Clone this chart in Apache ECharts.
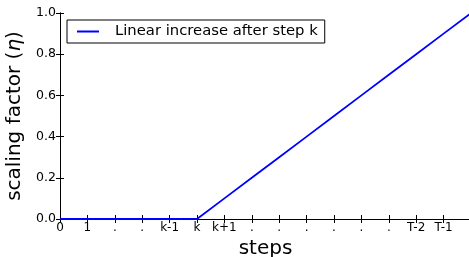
<!DOCTYPE html>
<html><head><meta charset="utf-8">
<script src="https://cdn.jsdelivr.net/npm/echarts@6/dist/echarts.min.js"></script>
<style>html,body{margin:0;padding:0;background:#fff}#c{width:469px;height:257px}</style>
</head><body><div id="c"></div>
<script>
const stepIndex = [0,1,2,3,4,5,6,7,8,9,10,11,12,13,14,15];
const tickLabels = ['0','1','.','.','k-1','k','k+1','.','.','.','.','.','.','T-2','T-1',''];
const eta = [0,0,0,0,0,0,0.1,0.2,0.3,0.4,0.5,0.6,0.7,0.8,0.9,1.0];
const seriesName = 'Linear increase after step k';

const FONT = 'DejaVu Sans';
const chart = echarts.init(document.getElementById('c'), null, {renderer:'canvas'});
const axLine = {show:true, lineStyle:{color:'#000', width:1}};
const axTick = {show:true, inside:true, length:4, lineStyle:{color:'#000', width:1}};
chart.setOption({
  animation:false,
  textStyle:{fontFamily:FONT},
  grid:{left:60, right:-2, top:13, bottom:38, containLabel:false, outerBoundsMode:'none'},
  legend:{
    left:67, top:20, orient:'horizontal',
    padding:[4,7,4,10],
    borderColor:'#000', borderWidth:1, borderRadius:0, backgroundColor:'#fff',
    itemWidth:22, itemHeight:2, icon:'rect',
    textStyle:{fontSize:14.8, color:'#000', fontFamily:FONT, padding:[0,0,0,11]},
    data:[seriesName]
  },
  xAxis:[
    {type:'value', min:0, max:15, interval:1, position:'bottom',
     axisLine:axLine, axisTick:axTick, splitLine:{show:false},
     axisLabel:{formatter:v=>tickLabels[v] ?? '', margin:3, fontSize:12, color:'#000', fontFamily:FONT, showMaxLabel:true, showMinLabel:true},
     name:'steps', nameLocation:'middle', nameGap:19,
     nameTextStyle:{fontSize:20, color:'#000', fontFamily:FONT}},
    {type:'value', min:0, max:15, interval:1, position:'top',
     axisLine:axLine, axisTick:axTick, splitLine:{show:false}, axisLabel:{show:false}}
  ],
  yAxis:[
    {type:'value', min:0, max:1, interval:0.2, position:'left',
     axisLine:axLine, axisTick:axTick, splitLine:{show:false},
     axisLabel:{formatter:v=>v.toFixed(1), margin:4, fontSize:12.5, color:'#000', fontFamily:FONT},
     name:'{n|scaling factor (}{i|η}{n|)}', nameLocation:'middle', nameGap:24,
     nameTextStyle:{fontSize:20, color:'#000', fontFamily:FONT,
       rich:{n:{fontSize:20, color:'#000', fontFamily:FONT}, i:{fontSize:20, color:'#000', fontFamily:FONT, fontStyle:'italic'}}}},
    {type:'value', min:0, max:1, interval:0.2, position:'right',
     axisLine:axLine, axisTick:axTick, splitLine:{show:false}, axisLabel:{show:false}}
  ],
  series:[{
    name:seriesName, type:'line', xAxisIndex:0, yAxisIndex:0,
    data: stepIndex.map((s,i)=>[s, eta[i]]),
    showSymbol:false, symbol:'none',
    lineStyle:{color:'#0000ff', width:1.8}, itemStyle:{color:'#0000ff'},
    z:5, clip:false
  }]
});
</script></body></html>
